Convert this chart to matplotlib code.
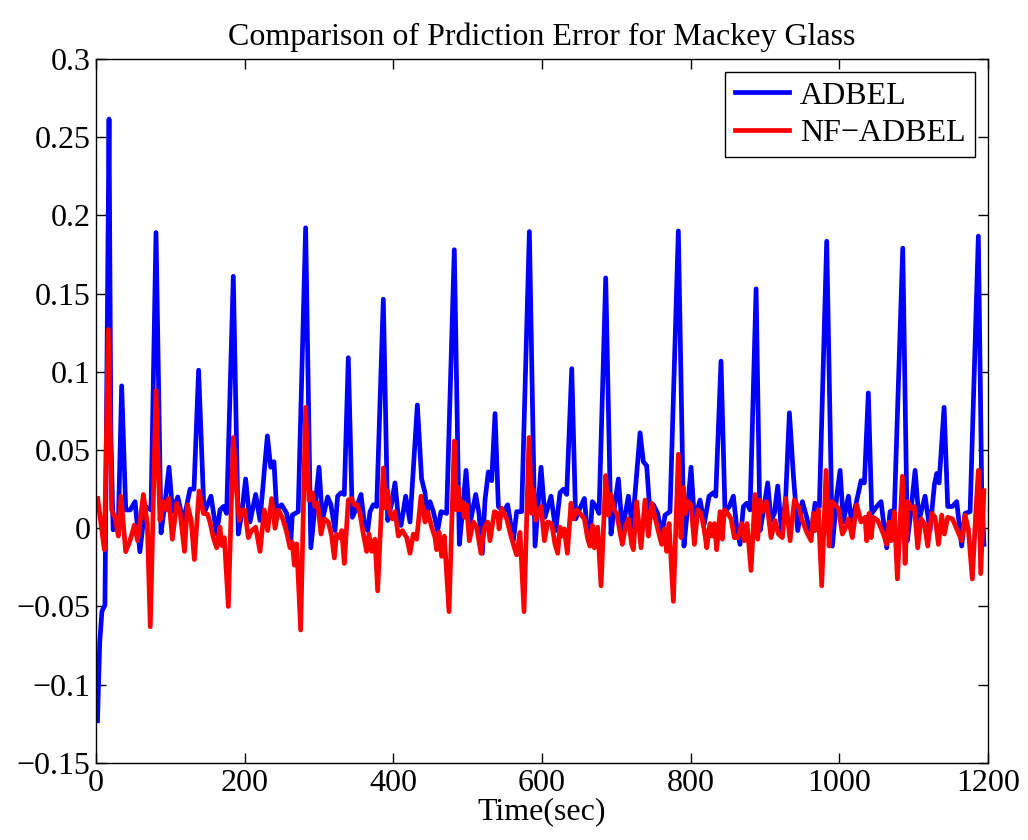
import numpy as np
import matplotlib
matplotlib.use("Agg")
import matplotlib.pyplot as plt
from matplotlib.ticker import FuncFormatter

# values (time in sec, prediction error)
adbel_t = [2, 5, 8, 12, 15, 17.5, 20, 23, 27, 30, 34.5, 40, 46, 52.5, 59, 66, 74, 80.7, 87.5,
           92.8, 98.2, 103, 110, 117.5, 126.5, 131.8, 138, 145.3,
           154.7, 162.3, 166.8, 171.3, 175.7, 184.7, 191.4, 196, 201.3, 207.1, 214.8, 220.6,
           230.5, 235, 239.4, 243, 249.7, 256.5, 262.3, 264, 272, 282, 289,
           294.6, 300, 304.5, 311.6, 316, 321.5, 325, 329.6, 334, 339.4, 344.8, 349.3, 356.5,
           361, 365.5, 368.6, 373, 377.6, 386.5, 392.4, 397.7, 402.2, 406.7, 410.3, 416.6,
           422.4, 432.3, 438, 442.6,
           444.8, 449.3, 453.8, 459.6, 464.1, 471.7, 482, 488.8, 492.8, 497.8, 503.1, 510.8,
           515.2, 519.7, 523.3, 527.8, 532.3, 536.8, 541.3, 548, 553.8, 561.4, 565.9, 572.6,
           583, 590.6,
           598.7, 604, 612.1, 618.4, 624.2, 628.7, 633.2, 640, 645.3, 651.1, 657, 661.5, 664.6,
           667.7, 672.7, 676.7, 685.7, 692.8, 698.2, 702.7, 708.1, 716.2, 721.5, 731.9, 736.3,
           740.8,
           745.3, 749.8, 755.6, 761, 765.5, 772.2, 783.4, 791, 796, 800.5, 805, 812.6, 818.4,
           824.7, 830.5, 833.7, 840.8, 846.2, 852, 857.4, 861.9, 866.4, 870.9, 875.4, 879.9,
           888, 893.3, 897.8, 903.6, 908.1, 912.6, 917.1, 922.5, 927.9, 932.8, 938.2, 944,
           950.3, 956.1, 962, 967.3, 973.1, 983, 990.6, 996.5, 1001, 1005.4, 1012.2, 1016.6,
           1021.1, 1029.2, 1033.7, 1039, 1043.6, 1050.3, 1056.1, 1063.7, 1068.2, 1074, 1085.3,
           1091.5, 1096, 1101.9, 1107.2, 1115.3, 1122, 1127.9, 1131, 1134.2, 1140.9, 1145.8,
           1152, 1157.9, 1164.6, 1169.1, 1175.9, 1187, 1191.5, 1194.5]
adbel_e = [-0.123, -0.073, -0.053, -0.049, 0.12, 0.2615, 0.06, -0.001, 0.0, 0.002, 0.091, 0.0117,
           0.0117, 0.017, -0.015, 0.014, 0.0117, 0.189, -0.003,
           0.016, 0.039, 0.0106, 0.020, 0.004, 0.025, 0.025, 0.101, 0.0095,
           0.0205, -0.0037, 0.0117, 0.0139, 0.0095, 0.161, -0.0037, 0.0095, 0.0315, 0.004,
           0.0216, 0.005,
           0.059, 0.039, 0.0425, 0.0117, 0.015, 0.0095, -0.007, 0.0084, 0.0106, 0.192, -0.0125,
           0.0139, 0.039, 0.005, 0.020, 0.015, -0.0015, 0.0205, 0.0227, 0.0216, 0.109, 0.007,
           0.0117, 0.0216,
           0.003, -0.0015, 0.0106, 0.015, 0.0139, 0.1464, 0.005, 0.016, 0.029, 0.007, 0.0018,
           0.0205, 0.004, 0.0788, 0.0315, 0.0227,
           0.0095, 0.017, 0.0106, -0.0015, 0.0106, 0.0095, 0.178, -0.0103, 0.0095, 0.037, 0.003,
           0.0216, 0.0095, -0.016, 0.018, 0.036, 0.0304, 0.0733, 0.0139, 0.0106, 0.015, -0.008,
           0.0106, 0.0106, 0.1896, -0.0114,
           0.039, 0.007, 0.0205, -0.0015, 0.0227, 0.0249, 0.0216, 0.102, 0.006, 0.0128, 0.019,
           -0.005, -0.006, 0.017, 0.0139, 0.0095, 0.160, -0.0037, 0.016, 0.0315, -0.0015,
           0.0205, 0.0007, 0.061, 0.0425, 0.040,
           0.0095, 0.015, 0.0095, -0.005, 0.0084, 0.0106, 0.190, -0.0114, 0.0139, 0.039, 0.005,
           0.018, 0.003, 0.0205, 0.0227, 0.0205, 0.1068, 0.0106, 0.0139, 0.0205, 0.0007,
           -0.0103, 0.0139, 0.016, 0.0117,
           0.153, -0.0015, 0.0106, 0.029, 0.005, 0.0095, 0.027, -0.0037, 0.0205, 0.0738, 0.0337,
           -0.0015, 0.017, 0.007, -0.005, 0.016, 0.0139, 0.1834, -0.0114, 0.0205, 0.037, 0.004,
           0.0205, 0.003, 0.0128, 0.0304, 0.029, 0.0865, 0.0095, 0.0139, 0.017, -0.0125, 0.0106,
           0.0117, 0.179, -0.008, 0.0095, 0.037, 0.005, 0.0205, -0.0015, 0.028, 0.035, 0.029,
           0.0773, 0.0139, 0.0139, 0.017, -0.0114, 0.0095, 0.0106, 0.1867, 0.025, -0.0103]

nf_t = [2.2, 7, 11.2, 16.6, 21, 25.6, 30, 33.6, 39.9, 45.7, 51.6, 56, 63.7, 69, 73, 80.7, 86,
        90.6, 95, 98, 102.7, 108.5, 113, 119, 123, 128, 132.3, 138.6, 144.4,
        150, 153.3, 157.8, 162.3, 166.8, 169, 172.6, 178, 184.7, 189.2, 192.8, 196.8, 200,
        204.9, 209.4, 214.8, 220.6, 226.4, 230.9, 236.3, 240.8, 245.3, 250.6, 256.5, 261, 264,
        266.8, 270, 275.3, 282, 286.5, 291,
        294.6, 298.2, 302.7, 307.2, 312.5, 317, 320.6, 323.7, 328.2, 330.5, 334, 339.4, 344,
        347.5, 351.5, 355.1, 359.6, 364.1, 367.2, 370.8, 375.3, 378.9, 386.5, 389.7, 392.4,
        395.5, 398.6, 402.2, 406.7, 412.1, 418, 422.4, 426.9, 431.4, 437.2,
        442.6, 446.2, 451.6, 456, 458.3, 461.4, 465, 468.6, 474.9, 482, 485.2, 487.4, 489.6,
        492.8, 495.5, 498.6, 502.2, 507.6, 512.1, 517.9, 522.4, 526.9, 530, 535.9, 540.4,
        542.2, 545.7, 552.5, 558.3, 562.8, 565.9, 570.4, 575.8, 582.5, 586.1, 588.3, 591.5,
        598.7, 603.2, 607.6, 613, 617.5, 621.1, 624.2, 627.4, 630, 634.1, 639, 642.2, 646.7,
        651.1, 657, 661.5, 664.6, 667.7, 670.4, 674.9, 679.4, 685.7, 689.3, 692.8, 696, 700.5,
        705, 708.1, 712.6, 716.2, 720.6, 722.9, 727.4, 733.2, 738.6,
        743.1, 747.6, 752, 757.4, 761, 764.6, 767.7, 770.9, 776.7, 783.4, 787, 790.2, 793.3,
        796, 800.5, 805, 809.5, 814, 818.4, 821.6, 826, 829.2, 832, 835, 839.5, 842.6, 845.3,
        849.8, 854.3, 858.8, 863.7, 868.6, 872.2, 875.8, 881.2, 886.6,
        890.2, 893.3, 896.5, 902.3, 908.1, 913.5, 918, 923.4, 927.9, 933.7, 939.5, 944.9,
        949.4, 956.1, 962, 965.1, 967.3, 971.8, 976.3, 982.1, 986.2, 989.7, 994.2, 998.7,
        1004.1, 1007.7, 1012.2, 1017.5, 1023.4, 1029.2, 1034.6,
        1036.8, 1040, 1042.7, 1045.8, 1051.6, 1059.3, 1063.7, 1066.9, 1069.6, 1074, 1078.1,
        1084.8, 1088.4, 1092, 1096.5, 1100.9, 1105.4, 1109.9, 1114.4, 1118.9, 1124.3, 1128.8,
        1133.3, 1137.7, 1141.3, 1145.8, 1152.1, 1157.9, 1164.6, 1169.1, 1173.5, 1178.9,
        1183.5, 1187, 1190.2, 1194.5]
nf_e = [0.019, 0.002, -0.0137, 0.127, 0.0117, 0.007, -0.005, 0.0205, -0.015, -0.008, 0.002,
        -0.008, 0.0216, 0.003, -0.063, 0.088, 0.005,
        0.017, 0.0117, 0.019, -0.007, 0.016, 0.0106, -0.0148, 0.015, 0.005, -0.02, 0.0238,
        0.0095,
        0.009, 0.004, -0.006, -0.0125, 0.0007, -0.011, -0.006, -0.05, 0.058, 0.0227, 0.005,
        0.0117, 0.0117,
        -0.006, -0.0015, 0.0007, -0.0148, 0.0117, -0.0015, 0.019, 0.0, 0.0117, 0.007, -0.0026,
        -0.0125, -0.009, -0.0236, -0.01, -0.065, 0.0773, 0.018, 0.0227,
        0.0139, 0.016, -0.0037, 0.006, 0.004, -0.005, -0.019, -0.0037, -0.006, -0.0015, -0.0225,
        0.018, 0.019, 0.015, 0.015, 0.0095, -0.0037, -0.0148, -0.0037, -0.0148, -0.007, -0.040,
        0.0385, 0.0128, 0.0238, 0.0095, 0.006, 0.0106, -0.005, -0.0015, -0.006, -0.016, -0.0037,
        -0.007, 0.0205,
        0.004, 0.0106, 0.0007, -0.006, -0.0137, -0.0026, -0.018, -0.005, -0.0533, 0.0557,
        0.0117, 0.026, 0.0117, 0.017, 0.007, 0.015, -0.008, 0.004, 0.0007, -0.016, 0.0007,
        0.004, -0.008, 0.0106, 0.0095, -0.0004, 0.0128, 0.006, -0.005, -0.0125, -0.017,
        -0.0026, -0.0533, 0.058, 0.0095, 0.0249, 0.005,
        0.0139, -0.008, 0.004, 0.003, -0.0103, -0.016, 0.0007, -0.005, -0.0004, -0.016, 0.016,
        0.006, 0.0117, 0.0095, 0.006, -0.007, -0.0114, 0.0018, -0.0125, 0.0007, -0.0368,
        0.0337, 0.0084, 0.0216, 0.0128, 0.0095, -0.0026, -0.0103, 0.0018, 0.006, -0.0103,
        -0.0137, 0.017, -0.0125, 0.018,
        -0.005, 0.016, 0.007, -0.0037, -0.0103, -0.0004, -0.0148, 0.003, -0.0467, 0.0473,
        -0.006, 0.026, 0.0095, 0.017, 0.015, -0.0103, 0.0117, 0.0095, -0.0015, -0.0125, 0.003,
        -0.005, 0.003, -0.0137, 0.0106, -0.007, 0.0117, 0.0095, 0.006, -0.006, -0.006, 0.003,
        -0.008, 0.003, -0.027, 0.0216,
        -0.007, 0.018, 0.0106, 0.017, -0.006, 0.005, -0.0037, -0.006, 0.019, -0.008, 0.018,
        0.0139, 0.006, -0.0026, -0.008, 0.0095, -0.0015, 0.0117, -0.0368, 0.037, -0.0114,
        0.017, 0.015, 0.0128, -0.0037, -0.0004, 0.006, -0.006, 0.015, 0.004, 0.007,
        -0.008, 0.0095, -0.006, 0.007, 0.005, -0.0037, -0.0103, 0.004, -0.008, 0.0106, -0.0324,
        0.0332, -0.0225, 0.017, 0.0128, 0.0139, -0.0125, 0.006, 0.003, -0.0114, 0.0095, 0.007,
        -0.0103, 0.0084, -0.0037, 0.007, 0.006, -0.0004, -0.008, 0.0084, -0.0004, -0.0324,
        0.0095, 0.037, -0.029, 0.024]

yticks = [-0.15, -0.1, -0.05, 0, 0.05, 0.1, 0.15, 0.2, 0.25, 0.3]
xticks = [0, 200, 400, 600, 800, 1000, 1200]

plt.rcParams["font.family"] = ["Liberation Serif", "DejaVu Serif"]
plt.rcParams["font.size"] = 23

fig = plt.figure(figsize=(10.28, 8.4), dpi=100)
ax = fig.add_axes([0.0934, 0.0917, 0.8677, 0.8383])

ax.plot(adbel_t, adbel_e, color="#0000ff", lw=3.4, label="ADBEL")
ax.plot(nf_t, nf_e, color="#ff0000", lw=3.4, label="NF\u2212ADBEL")

ax.set_xlim(0, 1200)
ax.set_ylim(-0.15, 0.3)
ax.set_xticks(xticks)
ax.set_yticks(yticks)
ax.yaxis.set_major_formatter(FuncFormatter(lambda v, _: f"{v:g}".replace("-", "\u2212")))
ax.tick_params(direction="in", length=7, width=1, top=True, right=True, labelsize=23, pad=4)
for s in ax.spines.values():
    s.set_linewidth(1)

ax.set_xlabel("Time(sec)", fontsize=23, labelpad=0)
ax.set_title("Comparison of Prdiction Error for Mackey Glass", fontsize=23, pad=10)

leg = ax.legend(loc="upper right", fontsize=23, fancybox=False, framealpha=1,
                edgecolor="black", borderaxespad=0.4, handlelength=1.7, handletextpad=0.35,
                labelspacing=0.25, borderpad=0.3)
leg.get_frame().set_linewidth(1)

fig.savefig("out.png", dpi=100)
